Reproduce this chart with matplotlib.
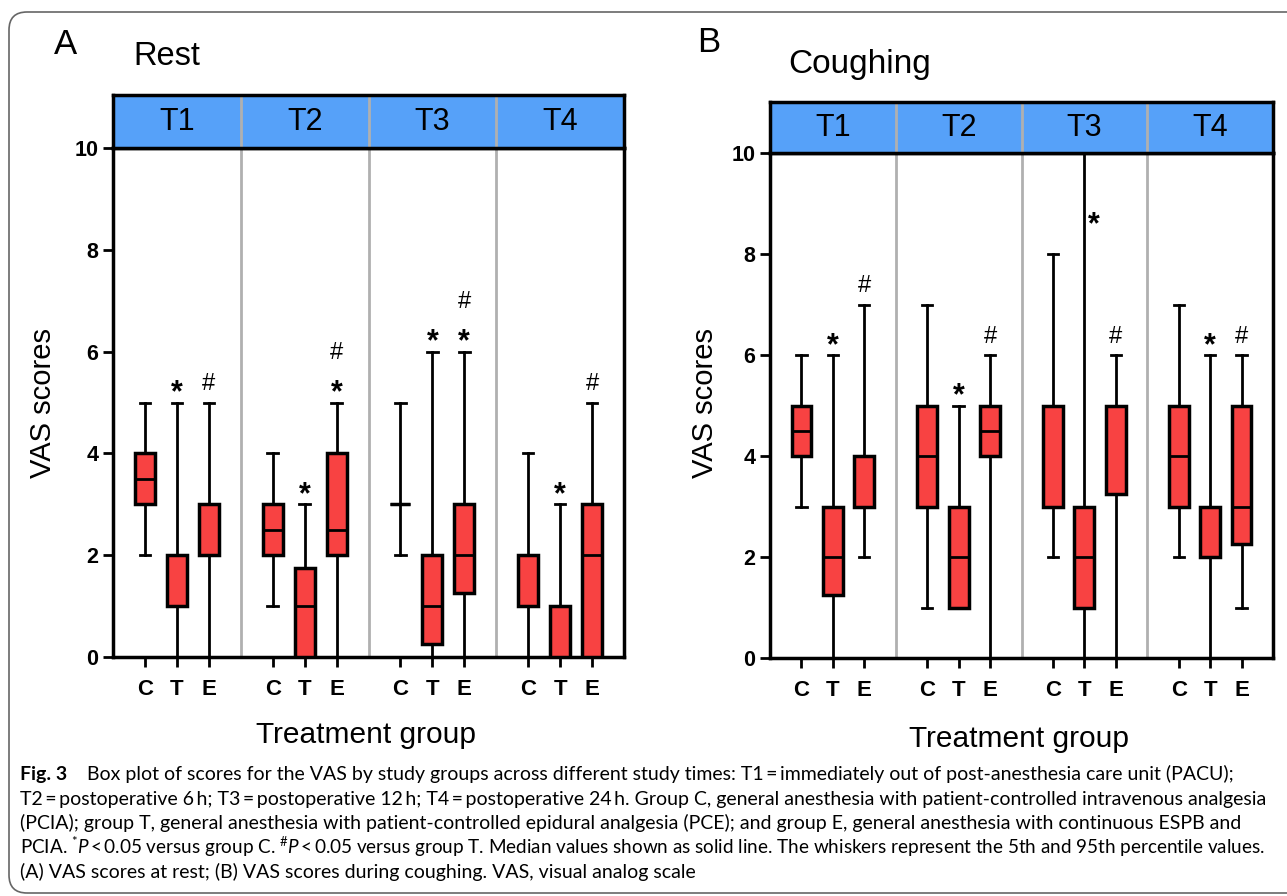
import matplotlib
matplotlib.use('Agg')
import matplotlib.pyplot as plt
from matplotlib import font_manager
from matplotlib.patches import FancyBboxPatch
from matplotlib.transforms import IdentityTransform

W, H = 1287, 896

# ---------------- data ----------------
groups = ['C', 'T', 'E']
times = ['T1', 'T2', 'T3', 'T4']

# Panel A: Rest  (order: T1 C,T,E, T2 C,T,E, ...)
rest_whislo = [2, 0, 0, 1, 0, 0, 2, 0, 0, 0, 0, 0]
rest_q1 = [3, 1, 2, 2, 0, 2, 3, 0.25, 1.25, 1, 0, 0]
rest_med = [3.5, 1, 3, 2.5, 1, 2.5, 3, 1, 2, 2, 1, 2]
rest_q3 = [4, 2, 3, 3, 1.75, 4, 3, 2, 3, 2, 1, 3]
rest_whishi = [5, 5, 5, 4, 3, 5, 5, 6, 6, 4, 3, 5]
rest_marks = ['', '*', '#', '', '*', '*#', '', '*', '*#', '', '*', '#']

# Panel B: Coughing
cough_whislo = [3, 0, 2, 1, 1, 0, 2, 0, 0, 2, 0, 1]
cough_q1 = [4, 1.25, 3, 3, 1, 4, 3, 1, 3.25, 3, 2, 2.25]
cough_med = [4.5, 2, 3, 4, 2, 4.5, 5, 2, 5, 4, 3, 3]
cough_q3 = [5, 3, 4, 5, 3, 5, 5, 3, 5, 5, 3, 5]
cough_whishi = [6, 6, 7, 7, 5, 6, 8, 10, 6, 7, 6, 6]
cough_marks = ['', '*', '#', '', '*', '#', '', '*', '#', '', '*', '#']

TS = "\u2009"
caption_lines = [
    "Box plot of scores for the VAS by study groups across different study times: T1" + TS + "=" + TS + "immediately out of post-anesthesia care unit (PACU);",
    "T2" + TS + "=" + TS + "postoperative 6" + TS + "h; T3" + TS + "=" + TS + "postoperative 12" + TS + "h; T4" + TS + "=" + TS + "postoperative 24" + TS + "h. Group C, general anesthesia with patient-controlled intravenous analgesia",
    "(PCIA); group T, general anesthesia with patient-controlled epidural analgesia (PCE); and group E, general anesthesia with continuous ESPB and",
    "PCIA. $^{*}\\mathit{P}$" + TS + "<" + TS + "0.05 versus group C. $^{\\#}\\mathit{P}$" + TS + "<" + TS + "0.05 versus group T. Median values shown as solid line. The whiskers represent the 5th and 95th percentile values.",
    "(A) VAS scores at rest; (B) VAS scores during coughing. VAS, visual analog scale",
]
caption_sizes = [14.0, 14.0, 14.0, 13.55, 14.0]

# ---------------- style ----------------
avail = {f.name for f in font_manager.fontManager.ttflist}
MAIN = ['Liberation Sans', 'DejaVu Sans']
NARROW = ['Liberation Sans Narrow', 'Liberation Sans', 'DejaVu Sans'] if 'Liberation Sans Narrow' in avail else MAIN
CAP = ['Lato', 'DejaVu Sans'] if 'Lato' in avail else MAIN
plt.rcParams['font.family'] = MAIN
plt.rcParams['mathtext.fontset'] = 'custom'
plt.rcParams['mathtext.rm'] = CAP[0]
plt.rcParams['mathtext.it'] = CAP[0] + ':italic'
plt.rcParams['mathtext.bf'] = CAP[0] + ':bold'

RED = '#f84242'
BLUE = '#56a1f9'
SEP = '#b0b0b0'

fig = plt.figure(figsize=(W / 100, H / 100), dpi=100)


def fx(x):
    return x / W


def fy(y):
    return 1 - y / H


positions = [g * 4 + i + 1 for g in range(4) for i in range(3)]


def draw_panel(left, right, y0, y10, htop, whislo, q1, med, q3, whishi, marks):
    ax = fig.add_axes([fx(left), fy(y0), (right - left) / W, (y0 - y10) / H])
    stats = [dict(whislo=a, q1=b, med=c, q3=d, whishi=e)
             for a, b, c, d, e in zip(whislo, q1, med, q3, whishi)]
    for xs in (4, 8, 12):
        ax.axvline(xs, color=SEP, lw=2, zorder=0)
    ax.bxp(stats, positions=positions, widths=0.63, patch_artist=True,
           showfliers=False,
           boxprops=dict(facecolor=RED, edgecolor='black', linewidth=2.5),
           medianprops=dict(color='black', linewidth=2),
           whiskerprops=dict(color='black', linewidth=2),
           capprops=dict(color='black', linewidth=2),
           capwidths=0.33, zorder=3)
    ax.set_xlim(0, 16)
    ax.set_ylim(0, 10)
    ax.set_yticks([0, 2, 4, 6, 8, 10])
    ax.set_xticks(positions)
    ax.set_xticklabels(groups * 4)
    for lab in ax.get_xticklabels() + ax.get_yticklabels():
        lab.set_fontweight('bold')
    ax.tick_params(axis='y', length=7.5, width=2, labelsize=15.5, pad=3)
    ax.tick_params(axis='x', length=7.5, width=2, labelsize=16, pad=8)
    for s in ax.spines.values():
        s.set_linewidth(2.5)
    # significance marks
    for x, top, m in zip(positions, whishi, marks):
        if not m:
            continue
        if top >= 10:
            ax.text(x + 0.3, 8.42, m, ha='center', va='baseline', fontsize=22,
                    fontweight='bold', zorder=5)
            continue
        base = top
        for ch in m:
            if ch == '*':
                ax.text(x, base + 0.02, '*', ha='center', va='baseline',
                        fontsize=22, fontweight='bold', zorder=5)
                base += 0.6
            else:
                ax.text(x, base + 0.25, '#', ha='center', va='baseline',
                        fontsize=17, zorder=5)
                base += 0.6
    # header band
    hax = fig.add_axes([fx(left), fy(y10), (right - left) / W, (y10 - htop) / H])
    hax.set_facecolor(BLUE)
    hax.set_xlim(0, 16)
    hax.set_ylim(0, 1)
    hax.set_xticks([])
    hax.set_yticks([])
    for xs in (4, 8, 12):
        hax.axvline(xs, color=SEP, lw=2)
    for i, t in enumerate(times):
        hax.text(i * 4 + 2, 0.5, t, ha='center', va='center', fontsize=22,
                 family=NARROW)
    for s in hax.spines.values():
        s.set_linewidth(2.5)
    return ax


axA = draw_panel(113, 624, 657, 148, 95, rest_whislo, rest_q1, rest_med,
                 rest_q3, rest_whishi, rest_marks)
axB = draw_panel(770, 1273, 658, 153.5, 102.5, cough_whislo, cough_q1, cough_med,
                 cough_q3, cough_whishi, cough_marks)

# labels
fig.text(fx(65), fy(54), 'A', fontsize=25, ha='center', va='baseline')
fig.text(fx(133), fy(65), 'Rest', fontsize=23.5, ha='left', va='baseline')
fig.text(fx(709), fy(52), 'B', fontsize=25, ha='center', va='baseline')
fig.text(fx(788), fy(73), 'Coughing', fontsize=24, ha='left', va='baseline')
fig.text(fx(43), fy(403), 'VAS scores', rotation=90, fontsize=21,
         ha='center', va='center')
fig.text(fx(705), fy(403), 'VAS scores', rotation=90, fontsize=21,
         ha='center', va='center')
fig.text(fx(366), fy(743), 'Treatment group', fontsize=21.5, ha='center',
         va='baseline')
fig.text(fx(1019), fy(747), 'Treatment group', fontsize=21.5, ha='center',
         va='baseline')

# caption
fig.text(fx(20), fy(780), 'Fig. 3', fontsize=caption_sizes[0], fontweight='bold',
         family=CAP, ha='left', va='baseline')
fig.text(fx(87), fy(780), caption_lines[0], fontsize=caption_sizes[0], family=CAP,
         ha='left', va='baseline')
for k, line in enumerate(caption_lines[1:]):
    fig.text(fx(20), fy(780 + 24.5 * (k + 1)), line, fontsize=caption_sizes[k + 1],
             family=CAP, ha='left', va='baseline')

# outer frame
frame = FancyBboxPatch((9, 3), 1400, 881, boxstyle='round,pad=0,rounding_size=18',
                       transform=IdentityTransform(), facecolor='none',
                       edgecolor='#666666', lw=1.2)
fig.patches.append(frame)

fig.savefig('out.png', dpi=100)
